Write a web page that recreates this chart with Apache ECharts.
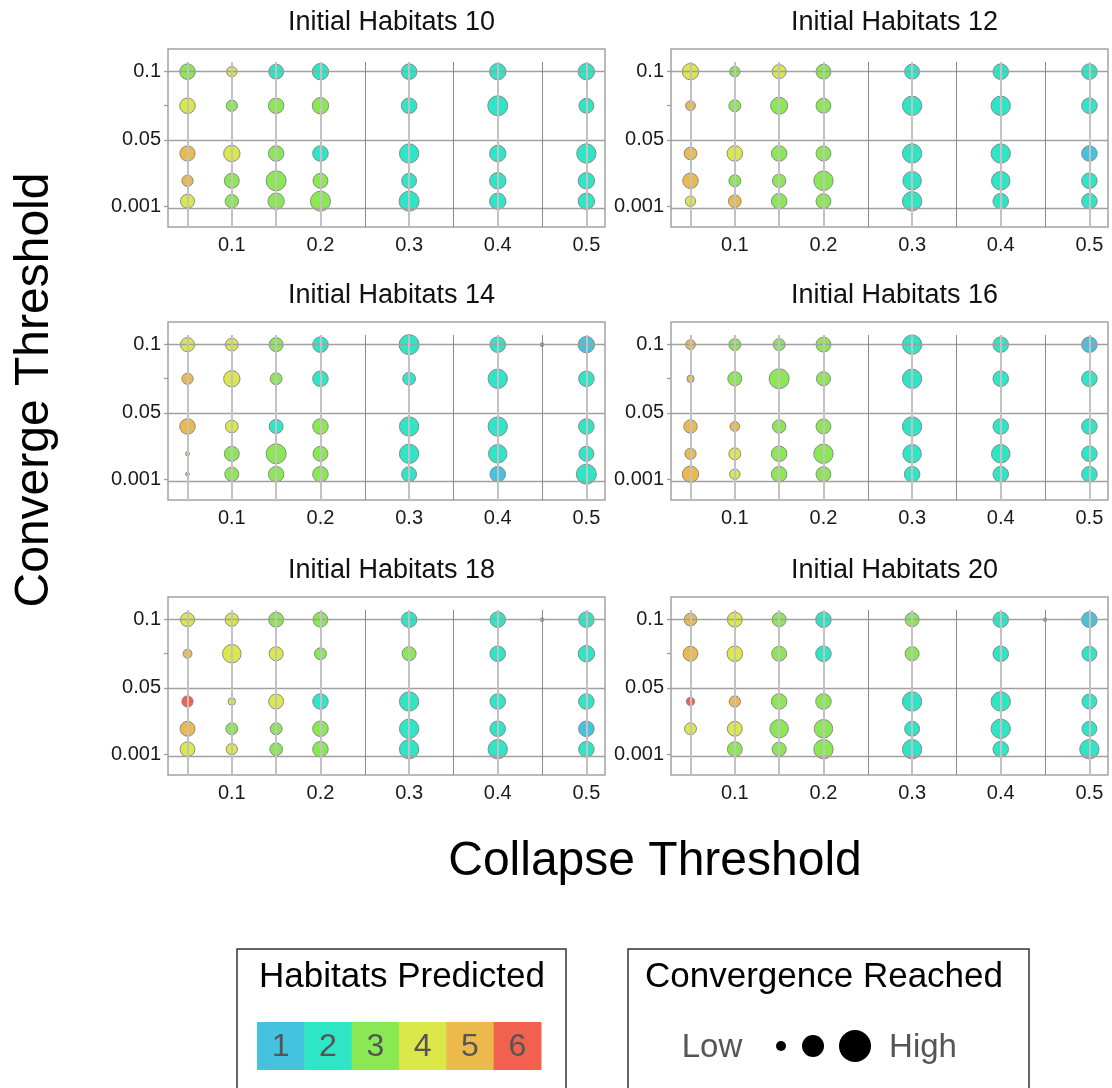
<!DOCTYPE html>
<html>
<head>
<meta charset="utf-8">
<script src="https://cdn.jsdelivr.net/npm/echarts@6/dist/echarts.min.js"></script>
<style>
html, body { margin: 0; padding: 0; background: #fff; }
#chart { width: 1112px; height: 1088px; }
</style>
</head>
<body>
<div id="chart"></div>
<script>
// axes of every panel
var collapse = [0.05, 0.1, 0.15, 0.2, 0.3, 0.4, 0.45, 0.5]
var converge = [0.1, 0.075, 0.04, 0.02, 0.005]
var initialHabitats = [10, 12, 14, 16, 18, 20]
var xTicks = [0.1, 0.2, 0.3, 0.4, 0.5]
var yTicks = [0.001, 0.05, 0.1]
var yTickMarks = [0.001, 0.05, 0.075, 0.1]
var pointCols = [0.05, 0.1, 0.15, 0.2, 0.3, 0.4, 0.5]
var midCols = [0.25, 0.35, 0.45]
var legendHabitats = [1, 2, 3, 4, 5, 6]

var N = null
// habitats predicted, one row per collapse value, columns follow converge
var pred10 = [[3, 4, 5, 5, 4], [4, 3, 4, 3, 3], [2, 3, 3, 3, 3], [2, 3, 2, 3, 3], [2, 2, 2, 2, 2], [2, 2, 2, 2, 2], [N, N, N, N, N], [2, 2, 2, 2, 2]]
var pred12 = [[4, 5, 5, 5, 4], [3, 3, 4, 3, 5], [4, 3, 3, 3, 3], [3, 3, 3, 3, 3], [2, 2, 2, 2, 2], [2, 2, 2, 2, 2], [N, N, N, N, N], [2, 2, 1, 2, 2]]
var pred14 = [[4, 5, 5, 4, 5], [4, 4, 4, 3, 3], [3, 3, 2, 3, 3], [2, 2, 3, 3, 3], [2, 2, 2, 2, 2], [2, 2, 2, 2, 1], [7, N, N, N, N], [1, 2, 2, 2, 2]]
var pred16 = [[5, 5, 5, 5, 5], [3, 3, 5, 4, 4], [3, 3, 3, 3, 3], [3, 3, 3, 3, 3], [2, 2, 2, 2, 2], [2, 2, 2, 2, 2], [N, N, N, N, N], [1, 2, 2, 2, 2]]
var pred18 = [[4, 5, 6, 5, 4], [4, 4, 4, 3, 4], [3, 4, 4, 3, 3], [3, 3, 2, 3, 3], [2, 3, 2, 2, 2], [2, 2, 2, 2, 2], [5, N, N, N, N], [2, 2, 2, 1, 2]]
var pred20 = [[5, 5, 6, 4, N], [4, 4, 5, 4, 3], [3, 3, 3, 3, 3], [2, 2, 3, 3, 3], [3, 3, 2, 2, 2], [2, 2, 2, 2, 2], [5, N, N, N, N], [1, 2, 2, 2, 2]]

// convergence reached (0 = low, 1 = high)
var conv10 = [[0.73, 0.73, 0.71, 0.47, 0.64], [0.42, 0.47, 0.78, 0.69, 0.6], [0.69, 0.73, 0.73, 1, 0.78], [0.78, 0.78, 0.73, 0.69, 1], [0.73, 0.73, 0.96, 0.69, 1], [0.78, 1, 0.78, 0.78, 0.78], [N, N, N, N, N], [0.78, 0.69, 0.96, 0.78, 0.78]]
var conv12 = [[0.78, 0.38, 0.56, 0.73, 0.42], [0.42, 0.51, 0.73, 0.51, 0.56], [0.64, 0.82, 0.73, 0.6, 0.73], [0.69, 0.69, 0.69, 0.96, 0.69], [0.69, 0.96, 0.96, 0.91, 0.96], [0.73, 0.96, 0.96, 0.91, 0.73], [N, N, N, N, N], [0.73, 0.73, 0.73, 0.73, 0.73]]
var conv14 = [[0.64, 0.47, 0.73, 0.04, 0.02], [0.56, 0.78, 0.56, 0.69, 0.64], [0.64, 0.51, 0.64, 1, 0.73], [0.73, 0.73, 0.73, 0.69, 0.73], [1, 0.56, 0.96, 0.96, 0.69], [0.73, 0.96, 0.96, 0.91, 0.73], [0.02, N, N, N, N], [0.78, 0.73, 0.73, 0.69, 1]]
var conv16 = [[0.38, 0.2, 0.6, 0.47, 0.78], [0.51, 0.64, 0.38, 0.51, 0.42], [0.51, 1, 0.6, 0.73, 0.73], [0.69, 0.64, 0.69, 0.96, 0.69], [0.96, 0.96, 0.96, 0.91, 0.73], [0.73, 0.73, 0.73, 0.91, 0.73], [N, N, N, N, N], [0.73, 0.73, 0.73, 0.73, 0.73]]
var conv18 = [[0.64, 0.33, 0.47, 0.69, 0.69], [0.6, 0.91, 0.24, 0.51, 0.47], [0.69, 0.64, 0.69, 0.51, 0.56], [0.69, 0.51, 0.73, 0.73, 0.73], [0.73, 0.64, 0.96, 0.96, 0.96], [0.73, 0.73, 0.73, 0.73, 0.96], [0.02, N, N, N, N], [0.73, 0.78, 0.73, 0.73, 0.73]]
var conv20 = [[0.56, 0.69, 0.29, 0.51, N], [0.69, 0.73, 0.47, 0.69, 0.69], [0.64, 0.69, 0.73, 0.91, 0.64], [0.73, 0.73, 0.73, 0.91, 0.96], [0.64, 0.64, 0.96, 0.69, 0.96], [0.73, 0.73, 0.96, 0.96, 0.73], [0, N, N, N, N], [0.73, 0.69, 0.69, 0.69, 0.96]]

var predicted = [pred10, pred12, pred14, pred16, pred18, pred20]
var reached = [conv10, conv12, conv14, conv16, conv18, conv20]

var palette = { 1: '#45C2E0', 2: '#2EE5C5', 3: '#8AE852', 4: '#DCE74A', 5: '#ECBA4A', 6: '#F2604F', 7: '#D46FD6' }
var font = 'Liberation Sans, Arial, sans-serif'

var xMin = 0.028
var xMax = 0.521
var yMin = -0.0139
var yMax = 0.1166
var lineTop = 0.1071

var gridLefts = [168, 671]
var gridTops = [49, 322, 597]
var gridW = 437
var gridH = 178

var myChart = echarts.init(document.getElementById('chart'))

var grids = []
var xAxes = []
var yAxes = []
var series = []
var graphics = []

initialHabitats.forEach(function (h, i) {
  var col = i % 2
  var row = Math.floor(i / 2)
  var left = gridLefts[col]
  var top = gridTops[row]

  grids.push({
    left: left, top: top, width: gridW, height: gridH,
    show: true, borderColor: '#a3a3a3', borderWidth: 1.5, backgroundColor: '#fff',
    outerBoundsMode: 'none'
  })
  xAxes.push({
    type: 'value', gridIndex: i, min: xMin, max: xMax,
    axisLine: { show: false }, axisTick: { show: false }, splitLine: { show: false },
    axisLabel: {
      customValues: xTicks, margin: 8, color: '#1a1a1a', fontSize: 20, fontFamily: font,
      formatter: function (v) { return String(+v.toFixed(3)) }
    }
  })
  yAxes.push({
    type: 'value', gridIndex: i, min: yMin, max: yMax,
    axisLine: { show: false }, splitLine: { show: false },
    axisTick: { show: true, customValues: yTickMarks, length: 4, lineStyle: { color: '#9e9e9e', width: 1.3 } },
    axisLabel: {
      customValues: yTicks, margin: 7, color: '#1a1a1a', fontSize: 20, fontFamily: font,
      formatter: function (v) { return String(+v.toFixed(3)) }
    }
  })

  // panel grid lines
  var lines = yTicks.map(function (v) {
    return { yAxis: v, lineStyle: { color: '#a0a0a0', width: 1.3, type: 'solid' } }
  })
  pointCols.forEach(function (v) {
    var st = { color: '#c2c2c2', width: 2, type: 'solid' }
    lines.push([{ coord: [v, lineTop], lineStyle: st }, { coord: [v, yMin], lineStyle: st }])
  })
  midCols.forEach(function (v) {
    var st = { color: '#8c8c8c', width: 1, type: 'solid' }
    lines.push([{ coord: [v, lineTop], lineStyle: st }, { coord: [v, yMin], lineStyle: st }])
  })
  series.push({
    type: 'scatter', xAxisIndex: i, yAxisIndex: i, data: [], z: 1, silent: true,
    markLine: { silent: true, symbol: ['none', 'none'], label: { show: false }, animation: false, data: lines }
  })

  var pts = []
  collapse.forEach(function (c, ci) {
    converge.forEach(function (g, gi) {
      var p = predicted[i][ci][gi]
      if (p !== null) pts.push([c, g, p, reached[i][ci][gi]])
    })
  })
  series.push({
    type: 'scatter', xAxisIndex: i, yAxisIndex: i, z: 3, animation: false,
    data: pts,
    symbolSize: function (d) { return 3.5 + 16.5 * d[3] },
    itemStyle: {
      color: function (params) { return palette[params.data[2]] },
      borderColor: '#8a8a8a', borderWidth: 1, opacity: 1
    }
  })

  graphics.push({
    type: 'text', x: left + gridW / 2 + 5, y: top - 26,
    style: { text: 'Initial Habitats ' + h, font: '27px ' + font, fill: '#111', textAlign: 'center', textVerticalAlign: 'middle' }
  })
})

// axis titles
graphics.push({
  type: 'text', x: 655, y: 862,
  style: { text: 'Collapse Threshold', font: '48px ' + font, fill: '#000', textAlign: 'center', textVerticalAlign: 'middle' }
})
graphics.push({
  type: 'text', x: 35, y: 390, rotation: Math.PI / 2,
  style: { text: 'Converge Threshold', font: '48px ' + font, fill: '#000', textAlign: 'center', textVerticalAlign: 'middle' }
})

// legend: habitats predicted
graphics.push({
  type: 'rect', shape: { x: 237, y: 949, width: 329, height: 170 },
  style: { fill: 'none', stroke: '#333', lineWidth: 1.5 }
})
graphics.push({
  type: 'text', x: 402, y: 977,
  style: { text: 'Habitats Predicted', font: '35px ' + font, fill: '#000', textAlign: 'center', textVerticalAlign: 'middle' }
})
var cellW = (541 - 257) / legendHabitats.length
legendHabitats.forEach(function (k, j) {
  graphics.push({
    type: 'rect', shape: { x: 257 + j * cellW, y: 1022, width: cellW + 0.5, height: 48 },
    style: { fill: palette[k] }
  })
  graphics.push({
    type: 'text', x: 257 + (j + 0.5) * cellW, y: 1047,
    style: { text: String(k), font: '32px ' + font, fill: '#555', textAlign: 'center', textVerticalAlign: 'middle' }
  })
})

// legend: convergence reached
graphics.push({
  type: 'rect', shape: { x: 628, y: 949, width: 401, height: 170 },
  style: { fill: 'none', stroke: '#333', lineWidth: 1.5 }
})
graphics.push({
  type: 'text', x: 824, y: 977,
  style: { text: 'Convergence Reached', font: '35px ' + font, fill: '#000', textAlign: 'center', textVerticalAlign: 'middle' }
})
graphics.push({
  type: 'text', x: 712, y: 1048,
  style: { text: 'Low', font: '33px ' + font, fill: '#555', textAlign: 'center', textVerticalAlign: 'middle' }
})
graphics.push({
  type: 'text', x: 923, y: 1048,
  style: { text: 'High', font: '33px ' + font, fill: '#555', textAlign: 'center', textVerticalAlign: 'middle' }
})
graphics.push({ type: 'circle', shape: { cx: 781, cy: 1046, r: 5 }, style: { fill: '#000' } })
graphics.push({ type: 'circle', shape: { cx: 813, cy: 1046, r: 11 }, style: { fill: '#000' } })
graphics.push({ type: 'circle', shape: { cx: 855, cy: 1046, r: 16 }, style: { fill: '#000' } })

var option = {
  backgroundColor: '#fff',
  animation: false,
  grid: grids,
  xAxis: xAxes,
  yAxis: yAxes,
  series: series,
  graphic: { elements: graphics }
}

myChart.setOption(option)
</script>
</body>
</html>
